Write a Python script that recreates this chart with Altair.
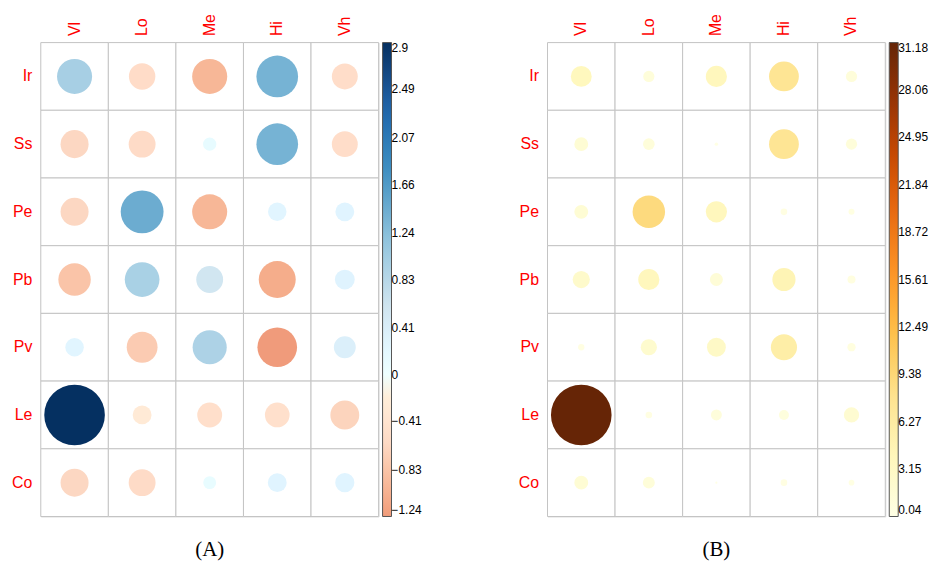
import altair as alt
import pandas as pd

rows = ["Ir", "Ss", "Pe", "Pb", "Pv", "Le", "Co"]
cols = ["Vl", "Lo", "Me", "Hi", "Vh"]

# Panel A values (row by row)
a_Ir = [0.97, -0.55, -0.97, 1.37, -0.53]
a_Ss = [-0.62, -0.57, 0.14, 1.37, -0.53]
a_Pe = [-0.62, 1.45, -0.97, 0.27, 0.28]
a_Pb = [-0.83, 0.95, 0.57, -1.08, 0.31]
a_Pv = [0.27, -0.75, 0.92, -1.24, 0.38]
a_Le = [2.90, -0.28, -0.49, -0.48, -0.66]
a_Co = [-0.62, -0.57, 0.13, 0.28, 0.29]

# Panel B values (row by row)
b_Ir = [3.70, 1.07, 3.80, 7.54, 1.07]
b_Ss = [1.64, 1.14, 0.10, 7.54, 1.07]
b_Pe = [1.64, 8.95, 3.80, 0.37, 0.30]
b_Pb = [2.51, 3.80, 1.42, 4.55, 0.54]
b_Pv = [0.34, 2.23, 3.02, 5.80, 0.58]
b_Le = [31.18, 0.37, 1.01, 0.84, 1.97]
b_Co = [1.64, 1.21, 0.04, 0.37, 0.27]

ticks_a = [2.9, 2.49, 2.07, 1.66, 1.24, 0.83, 0.41, 0, -0.41, -0.83, -1.24]
ticks_b = [31.18, 28.06, 24.95, 21.84, 18.72, 15.61, 12.49, 9.38, 6.27, 3.15, 0.04]

# colour ramps (corrplot RdBu / YlOrBr)
rdbu_dom = [-1.24, -1.16, -0.58, 0, 0.58, 1.16, 1.74, 2.32, 2.9]
rdbu_rng = ["#f09b7b", "#F4A582", "#FDDBC7", "#FFFFFF", "#D1E5F0", "#92C5DE",
            "#4393C3", "#2166AC", "#053061"]
ylorbr_rng = ["#FFFFE5", "#FFF7BC", "#FEE391", "#FEC44F", "#FE9929", "#EC7014",
              "#CC4C02", "#993404", "#662506"]
ylorbr_dom = [0.04 + i * (31.18 - 0.04) / 8 for i in range(9)]


def long_df(mats):
    recs = []
    for r, vals in zip(rows, mats):
        for c, v in zip(cols, vals):
            recs.append({"row": r, "col": c, "value": v, "mag": abs(v)})
    return pd.DataFrame(recs)


df_a = long_df([a_Ir, a_Ss, a_Pe, a_Pb, a_Pv, a_Le, a_Co])
df_b = long_df([b_Ir, b_Ss, b_Pe, b_Pb, b_Pv, b_Le, b_Co])

W, H = 340, 477
MAXSIZE = 61 * 61  # vega symbol size = bounding-box area
FONT = "Liberation Sans"


def panel(df, title, cdom, crng, ticks, vmax):
    x = alt.X("col:N", sort=cols, title=None,
              scale=alt.Scale(paddingInner=0, paddingOuter=0),
              axis=alt.Axis(orient="top", labelAngle=-90, labelAlign="left",
                            labelBaseline="middle", labelPadding=7,
                            labelColor="#ff0000", labelFont=FONT, labelFontSize=16,
                            ticks=False, domain=False, grid=False))
    y = alt.Y("row:N", sort=rows, title=None,
              scale=alt.Scale(paddingInner=0, paddingOuter=0),
              axis=alt.Axis(labelPadding=9, labelColor="#ff0000", labelFont=FONT,
                            labelFontSize=16, ticks=False, domain=False, grid=False))
    base = alt.Chart(df)
    grid = base.mark_rect(fill="white", stroke="#c4c4c4", strokeWidth=1).encode(x=x, y=y)
    circ = base.mark_circle(opacity=1).encode(
        x=x, y=y,
        color=alt.Color("value:Q", scale=alt.Scale(domain=cdom, range=crng),
                        legend=alt.Legend(title=None, orient="right", direction="vertical",
                                          offset=4, padding=0, gradientLength=H,
                                          gradientThickness=9,
                                          gradientStrokeColor="#555555",
                                          gradientStrokeWidth=1, values=ticks,
                                          format=".2~f", labelFont=FONT,
                                          labelFontSize=12, labelColor="black",
                                          labelOffset=0, labelOverlap=False,
                                          labelBaseline="middle")),
        size=alt.Size("mag:Q", scale=alt.Scale(domain=[0, vmax], range=[0, MAXSIZE]),
                      legend=None),
    )
    return alt.layer(grid, circ).properties(
        width=W, height=H,
        title=alt.TitleParams(title, orient="bottom", font="Liberation Serif",
                              fontSize=21, fontWeight="normal", color="black",
                              anchor="middle", offset=22),
    )


pa = panel(df_a, "(A)", rdbu_dom, rdbu_rng, ticks_a, 2.9)
pb = panel(df_b, "(B)", ylorbr_dom, ylorbr_rng, ticks_b, 31.18)

chart = alt.hconcat(pa, pb, spacing=95).resolve_scale(
    color="independent", size="independent"
).properties(
    padding={"left": 3, "top": 3, "right": 0, "bottom": 0}
).configure_view(stroke=None).configure(background="white")

chart.save("out.html", embed_options={"renderer": "svg", "actions": False})
